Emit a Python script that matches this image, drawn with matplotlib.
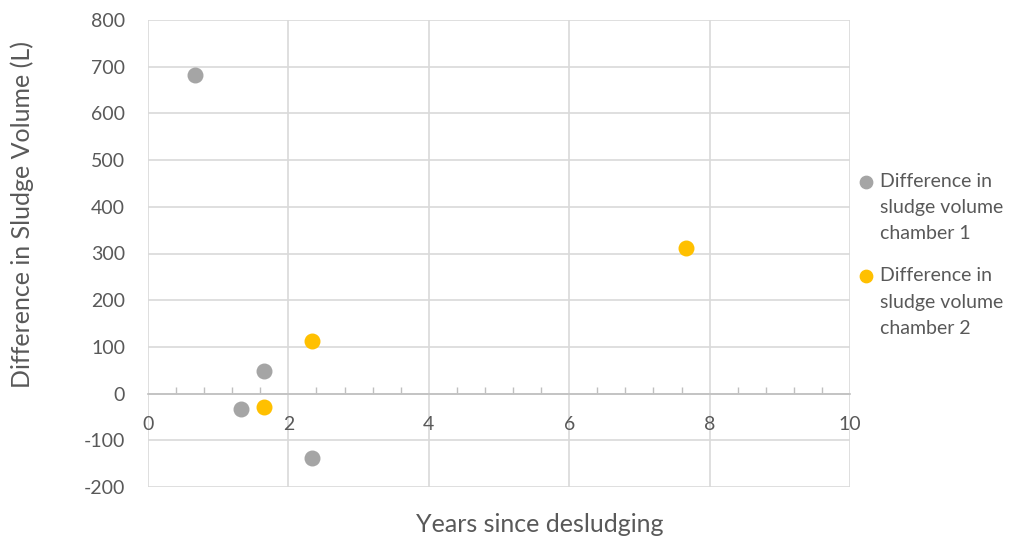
import numpy as np
import matplotlib
matplotlib.use("Agg")
import matplotlib.pyplot as plt
from matplotlib.ticker import MultipleLocator

plt.rcParams['font.family'] = ['Lato', 'DejaVu Sans']
plt.rcParams['axes.unicode_minus'] = False

# data
years_ch1 = [0.67, 1.32, 1.65, 2.34]
diff_ch1 = [683, -33, 48, -138]
years_ch2 = [1.65, 2.34, 7.66]
diff_ch2 = [-29, 112, 311]
labels = ["Difference in\nsludge volume\nchamber 1",
          "Difference in\nsludge volume\nchamber 2"]

TEXT = "#595959"
GRID = "#d9d9d9"

fig = plt.figure(figsize=(10.11, 5.40), dpi=100)
ax = fig.add_axes([148 / 1011, 1 - 487 / 540, 702 / 1011, 467 / 540])

ax.scatter(years_ch1, diff_ch1, s=110, color="#A5A5A5", zorder=3, label=labels[0])
ax.scatter(years_ch2, diff_ch2, s=110, color="#FFC000", zorder=3, label=labels[1])

ax.set_xlim(0, 10)
ax.set_ylim(-200, 800)
ax.xaxis.set_major_locator(MultipleLocator(2))
ax.xaxis.set_minor_locator(MultipleLocator(0.4))
ax.yaxis.set_major_locator(MultipleLocator(100))
ax.grid(True, which='major', color=GRID, linewidth=1.2, zorder=0)
ax.set_axisbelow(True)

for side in ['top', 'right', 'left']:
    ax.spines[side].set_visible(False)
ax.spines['bottom'].set_position(('data', 0))
ax.spines['bottom'].set_color("#bfbfbf")
ax.spines['bottom'].set_linewidth(1.2)

ax.tick_params(axis='x', which='major', length=0, pad=16, labelsize=14, labelcolor=TEXT)
ax.tick_params(axis='x', which='minor', direction='in', length=5, color="#bfbfbf", width=1)
ax.tick_params(axis='y', length=0, pad=16.5, labelsize=14, labelcolor=TEXT)

fig.text(22 / 1011, 1 - 214 / 540, "Difference in Sludge Volume (L)", rotation=90,
         ha='center', va='center', fontsize=18, color=TEXT)
fig.text(540 / 1011, 1 - 524 / 540, "Years since desludging",
         ha='center', va='center', fontsize=18, color=TEXT)

leg = fig.legend(loc='upper left', bbox_to_anchor=(859 / 1011, 1 - 173 / 540),
                 frameon=False, fontsize=14, handletextpad=0.4, labelspacing=1.3,
                 borderaxespad=0, borderpad=0, markerscale=0.85, handlelength=0.7)
for t in leg.get_texts():
    t.set_color(TEXT)
    t.set_linespacing(1.65)
# put each marker next to the first line of its label
for col in leg._legend_handle_box.get_children():
    for row in col.get_children():
        row.align = "top"

fig.savefig("out.png", dpi=100)
